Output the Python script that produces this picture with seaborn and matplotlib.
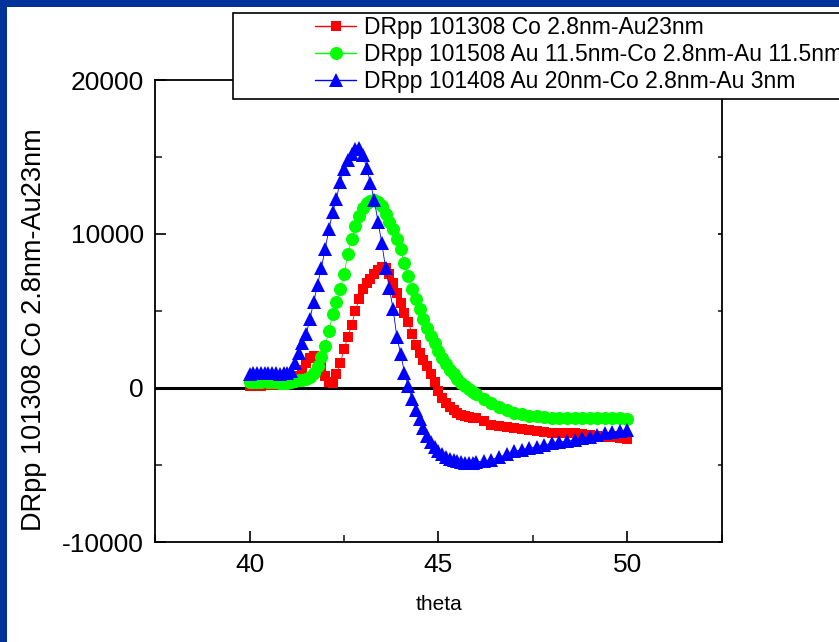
import matplotlib
matplotlib.use("Agg")
import matplotlib.pyplot as plt
from matplotlib.patches import Rectangle
from matplotlib.ticker import MultipleLocator
import seaborn as sns
import pandas as pd

# scan angle (deg): fine steps through the resonance, coarser in the tail
theta = [40.0, 40.1, 40.2, 40.3, 40.4, 40.5, 40.6, 40.7, 40.8, 40.9,
         41.0, 41.1, 41.2, 41.3, 41.4, 41.5, 41.6, 41.7, 41.8, 41.9,
         42.0, 42.1, 42.2, 42.3, 42.4, 42.5, 42.6, 42.7, 42.8, 42.9,
         43.0, 43.1, 43.2, 43.3, 43.4, 43.5, 43.6, 43.7, 43.8, 43.9,
         44.0, 44.1, 44.2, 44.3, 44.4, 44.5, 44.6, 44.7, 44.8, 44.9,
         45.0, 45.1, 45.2, 45.3, 45.4, 45.5, 45.6, 45.7, 45.8, 45.9,
         46.0, 46.2, 46.4, 46.6, 46.8, 47.0, 47.2, 47.4, 47.6, 47.8,
         48.0, 48.2, 48.4, 48.6, 48.8, 49.0, 49.2, 49.4, 49.6, 49.8, 50.0]

drpp_101308 = [150, 120, 180, 150, 200, 180, 250, 200, 230, 250,
               280, 350, 500, 800, 1200, 1600, 1950, 2100, 1900, 1400,
               800, 400, 350, 900, 1600, 2500, 3300, 4100, 5000, 5800,
               6400, 6800, 7100, 7400, 7650, 7850, 7800, 7400, 6800, 6200,
               5500, 4900, 4300, 3500, 2800, 2300, 1800, 1400, 900, 400,
               -200, -650, -1000, -1250, -1450, -1600, -1750, -1850, -1900, -1950,
               -1950, -2150, -2400, -2500, -2550, -2600, -2650, -2700, -2800, -2850,
               -2900, -2900, -2950, -2950, -3000, -3050, -3100, -3150, -3200, -3250, -3300]

drpp_101508 = [400, 380, 420, 400, 450, 420, 400, 380, 350, 330,
               350, 400, 450, 500, 550, 600, 700, 950, 1400, 2000,
               2700, 3700, 4800, 5600, 6400, 7400, 8700, 9700, 10500, 11200,
               11700, 12000, 12150, 12200, 12100, 11800, 11300, 10800, 10300, 9700,
               9000, 8100, 7300, 6400, 5800, 5100, 4500, 3900, 3400, 2900,
               2400, 1950, 1550, 1200, 900, 600, 350, 150, -50, -250,
               -400, -700, -1000, -1250, -1450, -1600, -1700, -1800, -1850, -1900,
               -1950, -1950, -1950, -1950, -1950, -1950, -1950, -1950, -1950, -1950, -2000]

drpp_101408 = [900, 1000, 950, 1000, 950, 1000, 950, 1000, 900, 950,
               1000, 1100, 1600, 2300, 2900, 3500, 4500, 5600, 6700, 7800,
               9000, 10300, 11400, 12300, 13400, 14200, 14800, 15200, 15500, 15600,
               15100, 14300, 13300, 12200, 10800, 9400, 7800, 6500, 5100, 3300,
               2200, 1000, 100, -700, -1400, -2000, -2600, -3100, -3500, -3800,
               -4100, -4300, -4450, -4600, -4700, -4750, -4800, -4850, -4850, -4850,
               -4800, -4750, -4650, -4500, -4300, -4100, -4000, -3900, -3800, -3700,
               -3600, -3500, -3450, -3350, -3250, -3150, -3050, -2950, -2850, -2800, -2700]

labels = ["DRpp 101308 Co 2.8nm-Au23nm",
          "DRpp 101508 Au 11.5nm-Co 2.8nm-Au 11.5nm",
          "DRpp 101408 Au 20nm-Co 2.8nm-Au 3nm"]
colors = ["#ff0000", "#00ff00", "#0000ff"]
markers = ["s", "o", "^"]
msizes = [7.8, 9.4, 10.0]

sns.set_theme(style="ticks")
plt.rcParams["font.family"] = ["Liberation Sans", "DejaVu Sans"]
plt.rcParams["axes.unicode_minus"] = False

fig = plt.figure(figsize=(8.39, 6.42), dpi=100)
fig.patch.set_facecolor("white")
ax = fig.add_axes([155 / 839, 1 - 542 / 642, (722 - 155) / 839, (542 - 80) / 642])

series = [drpp_101308, drpp_101508, drpp_101408]
for vals, lab, col, mk, ms in zip(series, labels, colors, markers, msizes):
    df = pd.DataFrame({"theta": theta, "DRpp": vals})
    sns.lineplot(data=df, x="theta", y="DRpp", ax=ax, color=col, marker=mk,
                 markersize=ms, markeredgewidth=0, linewidth=0.6,
                 estimator=None, sort=False, label=lab)

handles, labs = ax.get_legend_handles_labels()
ax.get_legend().remove()

ax.axhline(0, color="black", linewidth=2.2, zorder=1)

ax.set_xlim(37.5, 52.5)
ax.set_ylim(-10000, 20000)
ax.xaxis.set_major_locator(MultipleLocator(5))
ax.xaxis.set_minor_locator(MultipleLocator(2.5))
ax.yaxis.set_major_locator(MultipleLocator(10000))
ax.yaxis.set_minor_locator(MultipleLocator(5000))

for side in ["left", "right", "top", "bottom"]:
    ax.spines[side].set_color("black")
    ax.spines[side].set_linewidth(1.3)

ax.tick_params(axis="both", which="major", direction="in", length=8, width=1.2,
               labelsize=19, colors="black", pad=8)
ax.tick_params(axis="both", which="minor", direction="in", length=5, width=1.2)
ax.tick_params(axis="y", which="both", right=True, labelright=False)
for t in ax.yaxis.get_major_ticks():
    t.tick2line.set_markersize(3)
for t in ax.yaxis.get_minor_ticks():
    t.tick2line.set_markersize(3)

ax.set_xlabel("theta", fontsize=15, labelpad=13, color="black")
ax.set_ylabel("DRpp 101308 Co 2.8nm-Au23nm", fontsize=19.5, color="black")
ax.yaxis.set_label_coords(-0.19, 0.46)

# slide border
fig.add_artist(Rectangle((0, 0), 7 / 839, 1, transform=fig.transFigure,
                         facecolor="#003399", edgecolor="none", zorder=10))
fig.add_artist(Rectangle((0, 1 - 7 / 642), 1, 7 / 642, transform=fig.transFigure,
                         facecolor="#003399", edgecolor="none", zorder=10))

# legend box running off the right edge
fig.add_artist(Rectangle((233 / 839, 1 - 99 / 642), 1.0, 86 / 642,
                         transform=fig.transFigure, facecolor="white",
                         edgecolor="black", linewidth=1.2, zorder=4))
leg = fig.legend(handles, labs, loc="upper left",
                 bbox_to_anchor=(315 / 839, 1 - 16 / 642),
                 frameon=False, fontsize=16.5, borderpad=0, borderaxespad=0,
                 handlelength=1.8, handletextpad=0.35, labelspacing=0.17)
leg.set_zorder(6)
for h in leg.legend_handles:
    h.set_linewidth(1.0)
for t in leg.get_texts():
    t.set_color("black")

fig.savefig("out.png", dpi=100)
